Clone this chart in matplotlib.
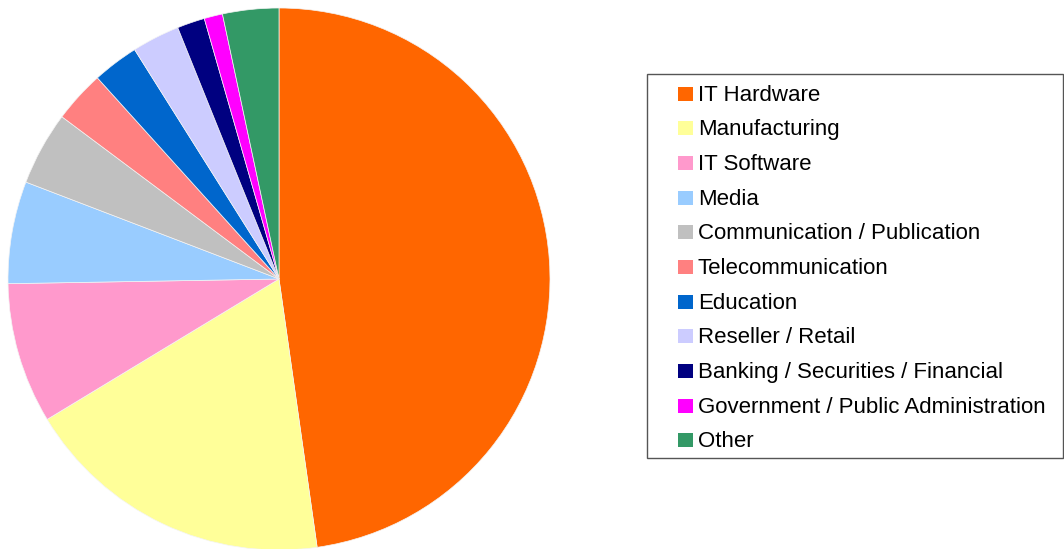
import matplotlib.pyplot as plt
from matplotlib.patches import Rectangle

# Share of entries per industry (percent)
industries = ['IT Hardware', 'Manufacturing', 'IT Software', 'Media',
              'Communication / Publication', 'Telecommunication', 'Education',
              'Reseller / Retail', 'Banking / Securities / Financial',
              'Government / Public Administration', 'Other']
shares = [47.8, 18.6, 8.4, 6.1, 4.4, 3.1, 2.75, 2.85, 1.65, 1.1, 3.35]
colors = ['#FF6600', '#FFFF99', '#FF99CC', '#99CCFF', '#C0C0C0', '#FF8080',
          '#0066CC', '#CCCCFF', '#000080', '#FF00FF', '#339966']

W, H = 1064, 549
fig = plt.figure(figsize=(W / 100, H / 100), dpi=100)

# Pie: centre ~ (279, 279) px, radius ~ 271 px
cx, cy, r = 279, 279, 271
ax = fig.add_axes([(cx - r) / W, (H - cy - r) / H, 2 * r / W, 2 * r / H])
ax.pie(shares, colors=colors, startangle=90, counterclock=False, radius=1,
       wedgeprops=dict(linewidth=0.5, edgecolor='#f4f4f4'))
ax.set_xlim(-1, 1)
ax.set_ylim(-1, 1)
ax.set_aspect('equal')
ax.axis('off')

# Legend box drawn by hand so spacing matches the original
fig.patches.append(Rectangle((647 / W, 1 - 458 / H), (1063 - 647) / W, (458 - 74) / H,
                             transform=fig.transFigure, facecolor='white',
                             edgecolor='#555555', linewidth=1))
for i, (name, col) in enumerate(zip(industries, colors)):
    base = 100.7 + i * 34.66   # text baseline in px from top
    fig.patches.append(Rectangle((678 / W, 1 - base / H), 14.5 / W, 14 / H,
                                 transform=fig.transFigure, facecolor=col,
                                 edgecolor='none'))
    fig.text(698 / W, 1 - base / H, name, fontsize=16, family='Liberation Sans',
             va='baseline', ha='left', color='black')

fig.savefig('out.png', dpi=100)
